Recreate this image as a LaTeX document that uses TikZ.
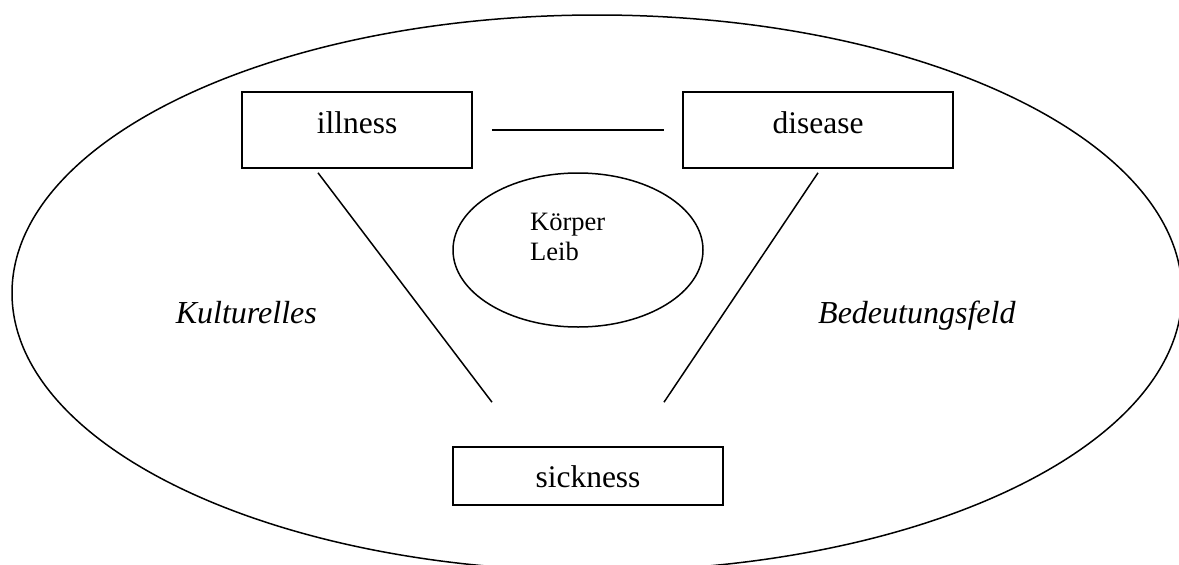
\documentclass[tikz,border=0pt]{standalone}
\usepackage{fontspec}
\setmainfont{Liberation Serif}
\usetikzlibrary{shapes.geometric}
\begin{document}
\begin{tikzpicture}[x=1pt,y=-1pt,
  conceptbox/.style={draw,line width=1.6pt,rectangle,inner sep=0pt,minimum width=230pt,
    font=\fontsize{31.5}{36}\selectfont},
  link/.style={line width=1.5pt},
  fieldtext/.style={font=\fontsize{32}{36}\selectfont\itshape,inner sep=0pt}]
\useasboundingbox (0,0) rectangle (1179,565);
\node[draw,ellipse,line width=1.5pt,minimum width=1170pt,minimum height=556pt,inner sep=0pt] (field) at (597,293) {};
\node[conceptbox,minimum width=230pt,text height=41pt,text depth=35pt] (illness) at (357,130) {illness};
\node[conceptbox,minimum width=270pt,text height=41pt,text depth=35pt] (disease) at (818,130) {disease};
\node[conceptbox,minimum width=270pt,text height=40pt,text depth=18pt] (sickness) at (588,476) {sickness};
\node[draw,ellipse,line width=1.5pt,minimum width=250pt,minimum height=154pt,inner sep=0pt] (body) at (578,250) {};
\node[anchor=base west,align=left,inner sep=0pt,font=\fontsize{26.5}{30}\selectfont] (bodytext) at (530,260) {Körper\\Leib};
\node[fieldtext,anchor=base east] (kult) at (317,323) {Kulturelles};
\node[fieldtext,anchor=base west] (bedeut) at (818,323) {Bedeutungsfeld};
\draw[link,shorten <=19pt,shorten >=18pt] (illness.east) -- (disease.west);
\draw[link] ([xshift=-39pt,yshift=-4pt]illness.south) -- ([xshift=-96pt,yshift=44pt]sickness.north);
\draw[link] ([yshift=-4pt]disease.south) -- ([xshift=76pt,yshift=44pt]sickness.north);
\end{tikzpicture}
\end{document}
